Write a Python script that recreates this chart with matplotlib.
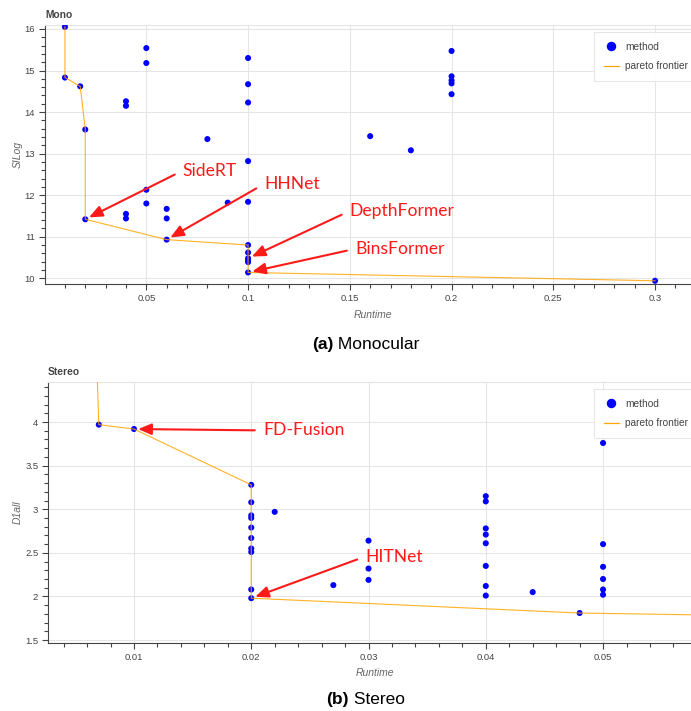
import numpy as np
import matplotlib
matplotlib.use('Agg')
from matplotlib import pyplot as plt
from matplotlib.lines import Line2D
from matplotlib.ticker import MultipleLocator, FuncFormatter

plt.rcParams['font.family'] = ['Liberation Sans', 'DejaVu Sans']

# Monocular (KITTI depth): runtime [s] vs SILog
mono_runtime = [0.01, 0.01, 0.0175, 0.02, 0.02,
                0.04, 0.04, 0.04, 0.04,
                0.05, 0.05, 0.05, 0.05,
                0.06, 0.06, 0.06,
                0.08, 0.09,
                0.1, 0.1, 0.1, 0.1, 0.1, 0.1, 0.1, 0.1, 0.1, 0.1, 0.1,
                0.16, 0.18,
                0.2, 0.2, 0.2, 0.2, 0.2,
                0.3]
mono_silog = [16.05, 14.83, 14.62, 13.58, 11.42,
              14.26, 14.15, 11.55, 11.44,
              15.54, 15.18, 12.13, 11.80,
              11.67, 11.44, 10.93,
              13.35, 11.82,
              15.30, 14.67, 14.23, 12.82, 11.84, 10.80, 10.62, 10.48, 10.43, 10.39, 10.14,
              13.42, 13.08,
              15.47, 14.86, 14.76, 14.69, 14.43,
              9.94]

# Stereo (KITTI 2015): runtime [s] vs D1-all
stereo_runtime = [0.0065, 0.007, 0.01,
                  0.02, 0.02, 0.02, 0.02, 0.02, 0.02, 0.02, 0.02, 0.02, 0.02,
                  0.022, 0.027,
                  0.03, 0.03, 0.03,
                  0.04, 0.04, 0.04, 0.04, 0.04, 0.04, 0.04, 0.04,
                  0.044, 0.048,
                  0.05, 0.05, 0.05, 0.05, 0.05, 0.05,
                  0.1]
stereo_d1 = [6.0, 3.97, 3.92,
             3.28, 3.08, 2.93, 2.90, 2.79, 2.67, 2.55, 2.51, 2.08, 1.98,
             2.97, 2.13,
             2.64, 2.32, 2.19,
             3.15, 3.09, 2.78, 2.71, 2.61, 2.35, 2.12, 2.01,
             2.05, 1.81,
             3.76, 2.60, 2.34, 2.20, 2.08, 2.02,
             1.70]

# annotations: (label, index of method, text offset in points)
mono_notes = [('SideRT', 4, (70, 35)),
              ('HHNet', 15, (70, 40)),
              ('DepthFormer', 25, (73, 34)),
              ('BinsFormer', 28, (77, 17))]
stereo_notes = [('FD-Fusion', 2, (93, -1)),
                ('HITNet', 12, (82, 30))]


def pareto(xs, ys):
    order = sorted(range(len(xs)), key=lambda i: (xs[i], -ys[i]))
    px, py = [], []
    best = np.inf
    for i in order:
        if ys[i] < best:
            best = ys[i]
            px.append(xs[i])
            py.append(ys[i])
    return px, py


def fmt(v, pos):
    return f"{v:g}"


def style_axes(ax):
    for side in ['left', 'bottom']:
        ax.spines[side].set_color('#444444')
        ax.spines[side].set_linewidth(0.8)
    ax.spines['top'].set_color('#e5e5e5')
    ax.spines['right'].set_visible(False)
    ax.grid(which='major', color='#e5e5e5', linewidth=0.75, zorder=0)
    ax.set_axisbelow(True)
    ax.tick_params(which='major', direction='out', length=4.5, width=0.8,
                   color='#444444', labelsize=6.8, labelcolor='#444444', pad=2.5)
    ax.tick_params(which='minor', direction='out', length=2.8, width=0.8, color='#444444')
    ax.xaxis.set_major_formatter(FuncFormatter(fmt))
    ax.yaxis.set_major_formatter(FuncFormatter(fmt))


def draw_panel(ax, xs, ys, notes, title, ylabel):
    style_axes(ax)
    ax.scatter(xs, ys, s=19, color='blue', edgecolors='none', zorder=3)
    px, py = pareto(xs, ys)
    ax.plot(px, py, color='orange', linewidth=0.8, alpha=0.85, zorder=4)
    for label, idx, off in notes:
        ax.annotate(
            label,
            xy=(xs[idx], ys[idx]),
            xytext=off,
            textcoords='offset points',
            ha='left', va='center',
            color='#ff1a1a',
            fontsize=12.6,
            family=['Lato', 'DejaVu Sans'],
            arrowprops=dict(
                arrowstyle='-|>,head_length=0.8,head_width=0.34',
                mutation_scale=10,
                color='#ff1a1a',
                linewidth=1.5,
                relpos=(0, 0.5),
                shrinkA=4,
                shrinkB=3,
            ),
            zorder=6,
        )
    ax.text(0, ax.title_y, title, transform=ax.transAxes, ha='left', va='center',
            fontsize=7.4, fontweight='bold', color='#444444')
    ax.set_xlabel('Runtime', fontsize=7.5, style='italic', color='#666666')
    ax.set_ylabel(ylabel, fontsize=7.5, style='italic', color='#666666')
    handles = [
        Line2D([], [], marker='o', linestyle='none', color='blue', markersize=5.8),
        Line2D([], [], color='orange', linewidth=0.9),
    ]
    leg = ax.legend(handles, ['method', 'pareto frontier'],
                    loc='upper left', bbox_to_anchor=ax.legend_anchor,
                    borderaxespad=0, fontsize=7.3, labelcolor='#444444',
                    frameon=True, fancybox=False, framealpha=0.95,
                    edgecolor='#e5e5e5', borderpad=0.95, labelspacing=0.95,
                    handlelength=1.5, handletextpad=0.6)
    leg.get_frame().set_linewidth(0.75)
    leg.set_zorder(7)


fig = plt.figure(figsize=(6.91, 7.11), dpi=100)

ax1 = fig.add_axes([0.0651, 0.6006, 0.935, 0.3643])
ax1.title_y = 1.039
ax1.legend_anchor = (0.85, 0.973)
ax1.set_xlim(0.0002, 0.3177)
ax1.set_ylim(9.863, 16.096)
ax1.xaxis.set_major_locator(MultipleLocator(0.05))
ax1.xaxis.set_minor_locator(MultipleLocator(0.01))
ax1.yaxis.set_major_locator(MultipleLocator(1))
ax1.yaxis.set_minor_locator(MultipleLocator(0.2))
draw_panel(ax1, mono_runtime, mono_silog, mono_notes, 'Mono', 'SILog')
ax1.xaxis.set_label_coords(0.508, -0.1)
ax1.yaxis.set_label_coords(-0.034, 0.5)

ax2 = fig.add_axes([0.0695, 0.0956, 0.9305, 0.3671])
ax2.title_y = 1.037
ax2.legend_anchor = (0.849, 0.973)
ax2.set_xlim(0.00267, 0.0575)
ax2.set_ylim(1.466, 4.459)
ax2.xaxis.set_major_locator(MultipleLocator(0.01))
ax2.xaxis.set_minor_locator(MultipleLocator(0.002))
ax2.yaxis.set_major_locator(MultipleLocator(0.5))
ax2.yaxis.set_minor_locator(MultipleLocator(0.1))
draw_panel(ax2, stereo_runtime, stereo_d1, stereo_notes, 'Stereo', 'D1all')
ax2.xaxis.set_label_coords(0.509, -0.096)
ax2.yaxis.set_label_coords(-0.039, 0.5)

# sub-captions, "(a)" bold and the rest regular, centred together
renderer = fig.canvas.get_renderer()
for tag, name, y in [('(a)', ' Monocular', 0.515), ('(b)', ' Stereo', 0.0165)]:
    t1 = fig.text(0, y, tag, fontsize=12.5, fontweight='bold', va='center')
    t2 = fig.text(0, y, name, fontsize=12.5, va='center')
    w1 = t1.get_window_extent(renderer).width / fig.bbox.width
    w2 = t2.get_window_extent(renderer).width / fig.bbox.width
    left = 0.529 - (w1 + w2) / 2
    t1.set_x(left)
    t2.set_x(left + w1)

fig.savefig('out.png', dpi=100)
